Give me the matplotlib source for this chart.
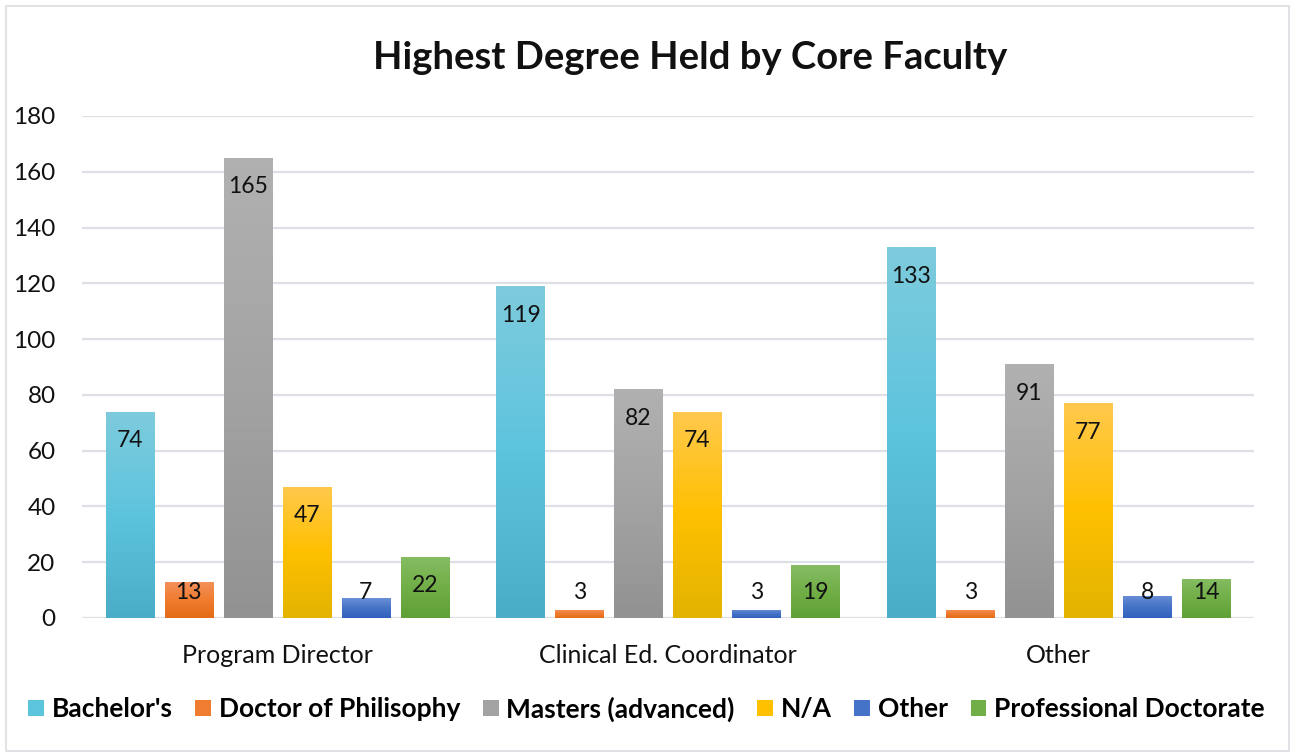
import numpy as np
import matplotlib.pyplot as plt
from matplotlib.colors import LinearSegmentedColormap
from matplotlib.patches import Rectangle, Patch

# Data
categories = ['Program Director', 'Clinical Ed. Coordinator', 'Other']
series = ["Bachelor's", 'Doctor of Philisophy', 'Masters (advanced)', 'N/A', 'Other',
          'Professional Doctorate']
bachelors = [74, 119, 133]
doctor_phil = [13, 3, 3]
masters_adv = [165, 82, 91]
not_avail = [47, 74, 77]
other_deg = [7, 3, 8]
prof_doct = [22, 19, 14]
values = [bachelors, doctor_phil, masters_adv, not_avail, other_deg, prof_doct]

# gradient colours (top, middle, bottom) per series
grads = [
    ('#7ecbdc', '#5dc4de', '#4aadc8'),
    ('#f3925c', '#f07c30', '#e46b17'),
    ('#b1b1b1', '#a3a3a3', '#929292'),
    ('#ffc94d', '#ffc000', '#e2b300'),
    ('#6a8fd6', '#4573c7', '#3262bd'),
    ('#86bd64', '#71ae47', '#5fa135'),
]

plt.rcParams['font.family'] = ['Lato', 'DejaVu Sans']

fig = plt.figure(figsize=(12.93, 7.54), dpi=100)
ax = fig.add_axes([82 / 1293, 1 - 618 / 754, (1254 - 82) / 1293, (618 - 116) / 754])

x = np.arange(len(categories))
step = 0.151
width = 0.123
grad_img = np.linspace(0, 1, 256).reshape(-1, 1)

for i, (name, vals) in enumerate(zip(series, values)):
    top, mid, bot = grads[i]
    cmap = LinearSegmentedColormap.from_list(name, [top, mid, bot])
    bars = ax.bar(x + (i - 2.5) * step, vals, width, color=mid, zorder=2)
    for b, v in zip(bars, vals):
        x0, w, h = b.get_x(), b.get_width(), b.get_height()
        im = ax.imshow(grad_img, cmap=cmap, aspect='auto', extent=[x0, x0 + w, 0, h],
                       origin='upper', zorder=2.5, interpolation='bilinear')
        im.set_clip_path(b)
        ly = max(v - 10.4, 9.3)
        ax.text(b.get_x() + w / 2, ly, str(v), ha='center', va='center',
                fontsize=16.5, color='#111111', zorder=4)

ax.set_xlim(-0.5, 2.5)
ax.set_ylim(0, 180)
ax.set_yticks(range(0, 181, 20))
ax.set_xticks(x)
ax.set_xticklabels(categories)
ax.tick_params(axis='y', length=0, pad=19, labelsize=17.5, labelcolor='#111111')
ax.tick_params(axis='x', length=0, pad=19, labelsize=18, labelcolor='#111111')
for s in ax.spines.values():
    s.set_visible(False)
ax.grid(axis='y', color='#dde1e7', linewidth=1.6, zorder=0)
ax.set_axisbelow(True)

fig.text(0.534, 1 - 58 / 754, 'Highest Degree Held by Core Faculty', ha='center', va='center',
         fontsize=27.5, fontweight='bold', color='#111111')

handles = [Patch(facecolor=g[1]) for g in grads]
leg = fig.legend(handles, series, loc='center', bbox_to_anchor=(0.5, 1 - 709 / 754), ncol=6,
                 frameon=False, prop={'weight': 'bold', 'size': 19}, handlelength=0.6,
                 handleheight=0.6, handletextpad=0.3, columnspacing=0.85)

# chart border
fig.patches.append(Rectangle((6 / 1293, 3 / 754), 1283 / 1293, 745 / 754, transform=fig.transFigure,
                             fill=False, edgecolor='#dadde2', linewidth=1.2))

fig.savefig('out.png', dpi=100)
